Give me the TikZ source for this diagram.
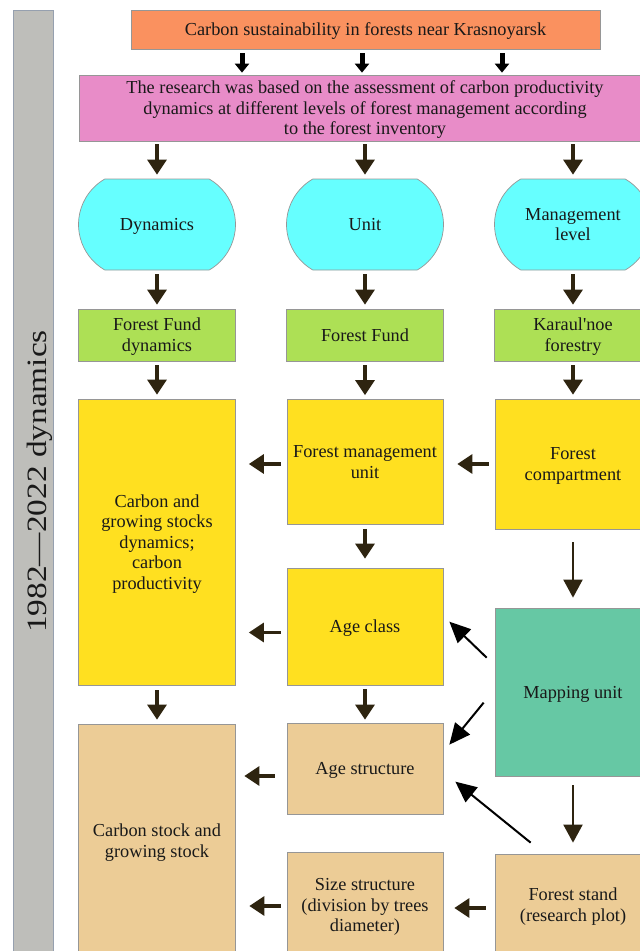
\documentclass[tikz,border=0pt]{standalone}
\usepackage{fontspec}
\setmainfont{Liberation Serif}[Ligatures=TeXOff]
\usetikzlibrary{arrows.meta,shapes.misc}
\definecolor{cOrange}{RGB}{250,145,95}
\definecolor{cPink}{RGB}{232,140,200}
\definecolor{cCyan}{RGB}{102,255,255}
\definecolor{cGreen}{RGB}{173,224,85}
\definecolor{cYellow}{RGB}{255,224,32}
\definecolor{cTeal}{RGB}{102,200,164}
\definecolor{cTan}{RGB}{236,204,150}
\definecolor{cBar}{RGB}{190,190,186}
\definecolor{cBarBorder}{RGB}{150,160,175}
\definecolor{cBorder}{RGB}{150,150,150}
\definecolor{cBrown}{RGB}{46,36,16}
\definecolor{cText}{RGB}{25,25,25}
\newcommand\tstrut{\rule{0pt}{16.3pt}}
\begin{document}
\begin{tikzpicture}[x=1pt,y=-1pt,
  box/.style={draw=cBorder, line width=0.7pt, inner sep=0pt, align=center, text=cText,
    font=\fontsize{18.3}{20.5}\selectfont,
    execute at begin node={\rule{0pt}{16.3pt}},
    execute at end node={\rule[-4pt]{0pt}{4pt}}},
  cy/.style={box, rounded rectangle, rounded rectangle arc length=120, fill=cCyan,
    minimum width=157pt, minimum height=91pt},
  gr/.style={box, fill=cGreen, minimum width=157pt, minimum height=52pt},
  arr/.style={draw=cBrown, line width=3.3pt, -{Triangle[length=15pt,width=19pt]}},
  longarr/.style={draw=cBrown, line width=2pt, -{Triangle[length=18pt,width=19pt]}},
  diag/.style={draw=black, line width=2pt, -{Triangle[length=21pt,width=19pt]}},
  toparr/.style={draw=black, line width=5pt, -{Triangle[length=9pt,width=14pt]}}
]
\useasboundingbox (0,0) rectangle (640,951);
\clip (0,0) rectangle (640,951);

% side bar
\node[draw=cBarBorder, line width=0.7pt, fill=cBar, minimum width=40pt, minimum height=960pt, inner sep=0pt] (bar) at (33,490) {};
\node[rotate=90, xscale=1.19, text=cText, font=\fontsize{28}{30}\selectfont, inner sep=0pt] (bartxt) at (40,481.5) {1982—2022 dynamics};

% top boxes
\node[box, fill=cOrange, minimum width=469pt, minimum height=39pt] (top) at (365.5,29.5) {Carbon sustainability in forests near Krasnoyarsk};
\node[box, fill=cPink, minimum width=572pt, minimum height=66pt] (res) at (365,108) {\tstrut The research was based on the assessment of carbon productivity\\dynamics at different levels of forest management according\\to the forest inventory};

% cyan
\node[cy] (dyn) at (157,224.5) {Dynamics};
\node[cy] (unit) at (365,224.5) {Unit};
\node[cy] (mgmt) at (573,224.5) {\tstrut Management\\level};

% green
\node[gr] (ffd) at (157,335) {\tstrut Forest Fund\\dynamics};
\node[gr] (ff) at (365,335) {Forest Fund};
\node[gr] (kf) at (573,335) {\tstrut Karaul'noe\\forestry};

% yellow
\node[box, fill=cYellow, minimum width=157pt, minimum height=286pt] (cgs) at (157,542) {\tstrut Carbon and\\growing stocks\\dynamics;\\carbon\\productivity};
\node[box, fill=cYellow, minimum width=156pt, minimum height=125pt] (fmu) at (365,462) {\tstrut Forest management\\unit};
\node[box, fill=cYellow, minimum width=156pt, minimum height=130pt] (fc) at (573,464) {\tstrut Forest\\compartment};
\node[box, fill=cYellow, minimum width=156pt, minimum height=117pt] (ac) at (365,626.5) {Age class};

% teal
\node[box, fill=cTeal, minimum width=156pt, minimum height=168pt] (mu) at (573,692) {Mapping unit};

% tan
\node[box, fill=cTan, minimum width=157pt, minimum height=234pt] (cs) at (157,841) {\tstrut Carbon stock and\\growing stock};
\node[box, fill=cTan, minimum width=156pt, minimum height=91pt] (as) at (365,768.5) {Age structure};
\node[box, fill=cTan, minimum width=156pt, minimum height=106pt] (ss) at (365,905) {\tstrut Size structure\\(division by trees\\diameter)};
\node[box, fill=cTan, minimum width=156pt, minimum height=102pt] (fs) at (573,905) {\tstrut Forest stand\\(research plot)};

% top arrows
\foreach \xx in {242,362,502}
  \draw[toparr, shorten <=4pt, shorten >=2pt] (top.south -| \xx,0) -- (res.north -| \xx,0);

% vertical arrows
\foreach \b in {dyn,unit,mgmt}
  \draw[arr, shorten <=3pt, shorten >=4pt] (res.south -| \b.north) -- (\b.north);
\foreach \a/\b in {dyn/ffd,unit/ff,mgmt/kf,ffd/cgs,ff/fmu,kf/fc}
  \draw[arr, shorten <=4pt, shorten >=4pt] (\a.south) -- (\b.north);
\draw[arr, shorten <=4pt, shorten >=9pt] (fmu.south) -- (ac.north);
\draw[arr, shorten <=5pt, shorten >=4pt] (cgs.south) -- (cs.north);
\draw[arr, shorten <=4pt, shorten >=3pt] (ac.south) -- (as.north);
\draw[longarr, shorten <=13pt, shorten >=10pt] (fc.south) -- (mu.north);
\draw[longarr, shorten <=9pt, shorten >=11pt] (mu.south) -- (fs.north);

% horizontal arrows
\coordinate (fmuL) at ([yshift=-2pt]fmu.west);
\coordinate (acL) at ([yshift=-6pt]ac.west);
\coordinate (asL) at ([yshift=-7.5pt]as.west);
\coordinate (ssL) at ([yshift=-1pt]ss.west);
\coordinate (fsL) at ([yshift=-3pt]fs.west);
\draw[arr, shorten <=6pt, shorten >=13pt] (fmuL) -- (fmuL -| cgs.east);
\draw[arr, shorten <=6pt, shorten >=14pt] (fc.west) -- (fc.west -| fmu.east);
\draw[arr, shorten <=6pt, shorten >=13pt] (acL) -- (acL -| cgs.east);
\draw[arr, shorten <=12pt, shorten >=8.5pt] (asL) -- (asL -| cs.east);
\draw[arr, shorten <=6pt, shorten >=13.5pt] (ssL) -- (ssL -| cs.east);
\draw[arr, shorten <=9pt, shorten >=11pt] (fsL) -- (fsL -| ss.east);

% diagonal arrows
\draw[diag] ([shift={(-8,50)}]mu.north west) -- ([shift={(6,54)}]ac.north east);
\draw[diag] ([shift={(-11,95)}]mu.north west) -- ([shift={(6,22)}]as.north east);
\draw[diag] ([shift={(36,-11)}]fs.north west) -- ([shift={(12,59)}]as.north east);
\end{tikzpicture}
\end{document}
